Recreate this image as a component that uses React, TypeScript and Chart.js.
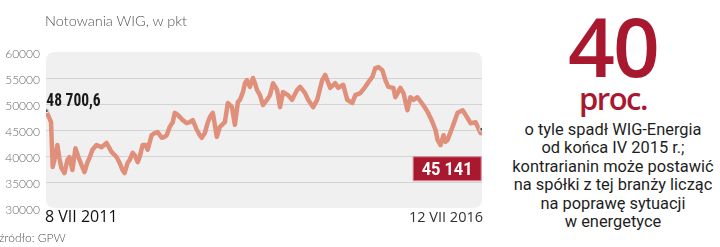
import React, { useEffect, useRef } from "react";
import { Chart, registerables } from "chart.js";

Chart.register(...registerables);

// Date as fractional year, WIG value in points
const dates: number[] = [
  2011.52, 2011.543, 2011.574, 2011.593, 2011.612, 2011.647, 2011.67, 2011.693, 2011.728, 2011.762,
  2011.786, 2011.82, 2011.855, 2011.889, 2011.924, 2011.959, 2011.993, 2012.016, 2012.051, 2012.097,
  2012.155, 2012.213, 2012.27, 2012.328, 2012.363, 2012.397, 2012.42, 2012.455, 2012.478, 2012.513,
  2012.536, 2012.571, 2012.594, 2012.628, 2012.663, 2012.686, 2012.732, 2012.767, 2012.801, 2012.848,
  2012.882, 2012.905, 2012.94, 2012.975, 2012.998, 2013.032, 2013.09, 2013.136, 2013.171, 2013.205,
  2013.252, 2013.286, 2013.309, 2013.344, 2013.379, 2013.402, 2013.436, 2013.459, 2013.482, 2013.517,
  2013.575, 2013.609, 2013.656, 2013.69, 2013.725, 2013.748, 2013.783, 2013.806, 2013.829, 2013.863,
  2013.898, 2013.921, 2013.944, 2013.979, 2014.013, 2014.06, 2014.094, 2014.129, 2014.175, 2014.21,
  2014.244, 2014.302, 2014.348, 2014.406, 2014.441, 2014.498, 2014.533, 2014.591, 2014.637, 2014.695,
  2014.729, 2014.787, 2014.845, 2014.879, 2014.937, 2014.983, 2015.041, 2015.076, 2015.133, 2015.191,
  2015.226, 2015.272, 2015.306, 2015.341, 2015.387, 2015.422, 2015.456, 2015.514, 2015.537, 2015.595,
  2015.63, 2015.676, 2015.71, 2015.745, 2015.791, 2015.849, 2015.907, 2015.942, 2015.964, 2015.999,
  2016.022, 2016.057, 2016.091, 2016.114, 2016.138, 2016.195, 2016.253, 2016.311, 2016.345, 2016.368,
  2016.403, 2016.461, 2016.484, 2016.518, 2016.53,
];

const wig: number[] = [
  48700.6, 47700, 46500, 37900, 39200, 42100, 39600, 37700, 36700, 39200,
  39800, 37300, 41500, 39800, 38300, 36900, 38800, 39600, 41200, 42100,
  41700, 42500, 40800, 39800, 38700, 37300, 36700, 38700, 39200, 40600,
  40200, 38800, 39800, 42100, 42100, 41200, 44000, 44400, 44600, 43500,
  43700, 44000, 45600, 46500, 48300, 47900, 46900, 46300, 46500, 46900,
  45000, 44000, 43500, 44400, 46500, 47500, 48300, 46000, 43700, 45600,
  46500, 50200, 49400, 46000, 50400, 50800, 52300, 54000, 54600, 53300,
  55000, 54000, 52700, 51700, 49800, 50800, 51700, 54000, 52700, 49400,
  52300, 51700, 50800, 52700, 53300, 52100, 50800, 49400, 50800, 54600,
  55600, 53100, 54000, 53100, 53700, 50800, 50200, 51700, 52100, 53300,
  54200, 55200, 56900, 57100, 56500, 54600, 53300, 53100, 51300, 53100,
  52100, 48800, 51300, 50800, 51300, 50000, 48500, 47300, 46500, 45000,
  43100, 42100, 44000, 42700, 43100, 45600, 48300, 48800, 47900, 47300,
  46300, 46500, 45600, 44400, 45141,
];

const yTicks: number[] = [30000, 35000, 40000, 45000, 50000, 55000, 60000];
const startLabel = "48 700,6";
const endLabel = "45 141";
const startDateLabel = "8 VII 2011";
const endDateLabel = "12 VII 2016";
const titleText = "Notowania WIG, w pkt";
const sourceText = "źródło: GPW";
const bigNumber = "40";
const bigUnit = "proc.";
const noteLines: string[] = [
  "o tyle spadł WIG-Energia",
  "od końca IV 2015 r.;",
  "kontrarianin może postawić",
  "na spółki z tej branży licząc",
  "na poprawę sytuacji",
  "w energetyce",
];

const RED = "#a8182f";
const LINE = "#e0907a";

const panelPlugin = {
  id: "panel",
  beforeDraw(chart: any) {
    const { ctx, chartArea } = chart;
    const l = chartArea.left, t = chartArea.top, r = chartArea.right, b = chartArea.bottom;
    const rad = 9;
    ctx.save();
    ctx.fillStyle = "#f0f0f1";
    ctx.beginPath();
    ctx.moveTo(l + rad, t);
    ctx.lineTo(r - rad, t);
    ctx.quadraticCurveTo(r, t, r, t + rad);
    ctx.lineTo(r, b - rad);
    ctx.quadraticCurveTo(r, b, r - rad, b);
    ctx.lineTo(l + rad, b);
    ctx.quadraticCurveTo(l, b, l, b - rad);
    ctx.lineTo(l, t + rad);
    ctx.quadraticCurveTo(l, t, l + rad, t);
    ctx.closePath();
    ctx.fill();
    ctx.restore();
  },
};

const labelPlugin = {
  id: "labels",
  afterDraw(chart: any) {
    const { ctx } = chart;
    const xs = chart.scales.x;
    const ys = chart.scales.y;
    const n = wig.length - 1;
    const x0 = xs.getPixelForValue(dates[0]);
    const y0 = ys.getPixelForValue(wig[0]);
    const x1 = xs.getPixelForValue(dates[n]);
    const y1 = ys.getPixelForValue(wig[n]);
    ctx.save();
    // start label
    ctx.fillStyle = "#1a1a1a";
    ctx.font = "bold 18px 'Roboto Condensed', 'Liberation Sans Narrow', Roboto, sans-serif";
    ctx.textBaseline = "alphabetic";
    ctx.textAlign = "left";
    ctx.save();
    ctx.translate(x0, y0 - 5);
    ctx.scale(0.86, 1);
    ctx.fillText(startLabel, 0, 0);
    ctx.restore();
    // end box
    const bw = 69, bh = 25;
    const bx = x1 - bw, by = y1 + 27;
    ctx.fillStyle = RED;
    ctx.strokeStyle = "#d98a96";
    ctx.lineWidth = 1;
    ctx.beginPath();
    ctx.rect(bx + 0.5, by + 0.5, bw - 1, bh - 1);
    ctx.fill();
    ctx.stroke();
    ctx.fillStyle = "#ffffff";
    ctx.font = "bold 19px Roboto, sans-serif";
    ctx.textAlign = "center";
    ctx.textBaseline = "middle";
    ctx.save();
    ctx.translate(bx + bw / 2, by + bh / 2 + 1);
    ctx.scale(0.86, 1);
    ctx.fillText(endLabel, 0, 0);
    ctx.restore();
    ctx.restore();
  },
};

export default function App() {
  const canvasRef = useRef<HTMLCanvasElement | null>(null);

  useEffect(() => {
    if (!canvasRef.current) return;
    const points = dates.map((d, i) => ({ x: d, y: wig[i] }));
    const last = points.length - 1;
    const chart = new Chart(canvasRef.current, {
      type: "line",
      data: {
        datasets: [
          {
            data: points,
            borderColor: LINE,
            borderWidth: 4.5,
            tension: 0,
            borderJoinStyle: "round",
            borderCapStyle: "round",
            pointRadius: (c: any) => (c.dataIndex === 0 || c.dataIndex === last ? 2.5 : 0),
            pointStyle: "rect",
            pointBackgroundColor: "#555",
            pointBorderColor: "#e8e8e8",
            pointBorderWidth: 1,
          },
        ],
      },
      options: {
        responsive: false,
        animation: false,
        events: [],
        layout: { padding: { top: 52, bottom: 39, right: 18, left: 0 } },
        plugins: { legend: { display: false }, tooltip: { enabled: false } },
        scales: {
          x: {
            type: "linear",
            display: false,
            min: dates[0] - 0.004,
            max: dates[dates.length - 1] + 0.004,
          },
          y: {
            min: yTicks[0],
            max: yTicks[yTicks.length - 1],
            afterBuildTicks: (axis: any) => {
              axis.ticks = yTicks.map((v) => ({ value: v }));
            },
            afterFit: (axis: any) => {
              axis.width = 46;
            },
            border: { display: false },
            grid: {
              drawTicks: false,
              color: (c: any) =>
                c.tick && (c.tick.value === 30000 || c.tick.value === 60000) ? "rgba(0,0,0,0)" : "#d3d3d5",
              lineWidth: 1,
            },
            ticks: {
              padding: 6,
              labelOffset: 2,
              color: "#6a6a6a",
              font: { family: "Lato, sans-serif", size: 12, weight: 300 },
              callback: (v: any) => String(v),
            },
          },
        },
      },
      plugins: [panelPlugin, labelPlugin],
    } as any);
    return () => chart.destroy();
  }, []);

  const abs = (o: any): React.CSSProperties => ({ position: "absolute", whiteSpace: "nowrap", ...o });

  return (
    <div style={{ position: "fixed", left: 0, top: 0, width: 720, height: 247, background: "#fff", overflow: "hidden" }}>
      <canvas ref={canvasRef} width={500} height={247} style={{ position: "absolute", left: 0, top: 0, width: 500, height: 247 }} />
      <div style={abs({ left: 45, top: 12, fontFamily: "Lato, sans-serif", fontWeight: 300, fontSize: 14.5, color: "#555", lineHeight: "18px" })}>
        {titleText}
      </div>
      <div style={abs({ left: 45, top: 206, fontFamily: "'Open Sans', sans-serif", fontWeight: 400, fontSize: 16, color: "#111", lineHeight: "20px" })}>
        {startDateLabel}
      </div>
      <div style={abs({ left: 409, top: 207, fontFamily: "'Open Sans', sans-serif", fontWeight: 400, fontSize: 14.5, color: "#333", lineHeight: "20px" })}>
        {endDateLabel}
      </div>
      <div style={abs({ left: -1, top: 230, fontFamily: "Lato, sans-serif", fontWeight: 300, fontSize: 12, color: "#555", lineHeight: "16px" })}>
        {sourceText}
      </div>
      <div style={abs({ left: 510, top: 0, width: 206, textAlign: "center", fontFamily: "'Open Sans', sans-serif", fontWeight: 600, fontSize: 82, color: RED, lineHeight: "90px", letterSpacing: -2 })}>
        {bigNumber}
      </div>
      <div style={abs({ left: 510, top: 80, width: 206, textAlign: "center", fontFamily: "'Open Sans', sans-serif", fontWeight: 600, fontSize: 31, color: RED, lineHeight: "36px", letterSpacing: -1.5 })}>
        {bigUnit}
      </div>
      <div style={abs({ left: 506, top: 121, width: 214, textAlign: "center", fontFamily: "Roboto, sans-serif", fontWeight: 400, fontSize: 16.4, color: "#1e1e1e", lineHeight: "18.4px" })}>
        {noteLines.map((l, i) => (
          <div key={i}>{l}</div>
        ))}
      </div>
    </div>
  );
}
